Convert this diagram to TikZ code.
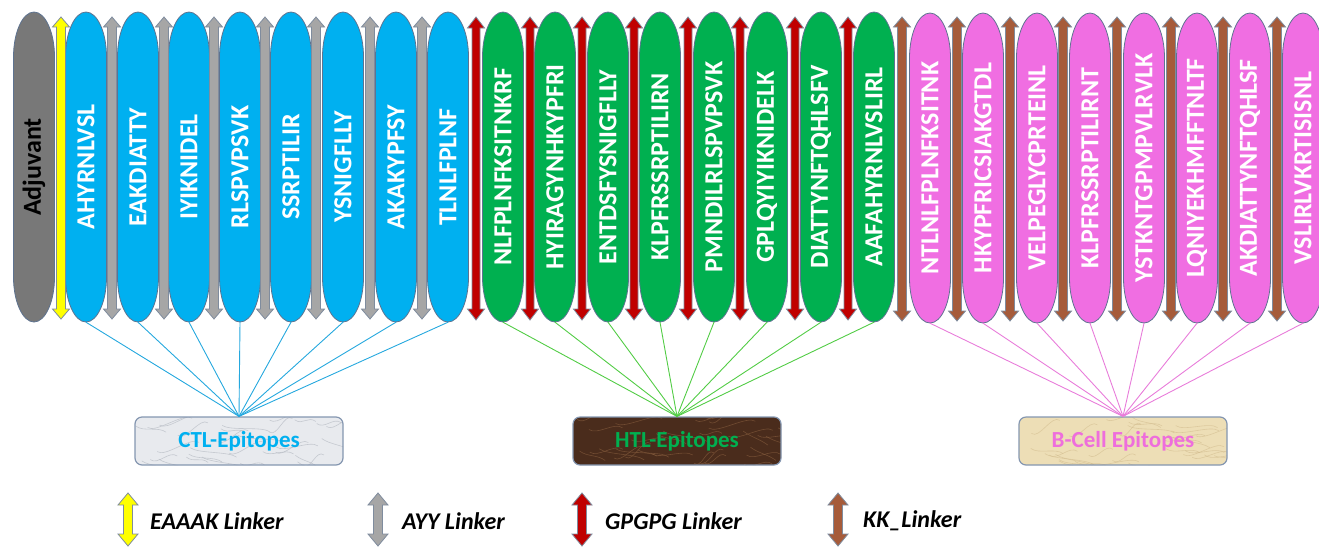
\documentclass[tikz,border=0pt]{standalone}
\usepackage{fontspec}
\setmainfont{Carlito}
\definecolor{ctlblue}{HTML}{00B0F0}
\definecolor{htlgreen}{HTML}{00B050}
\definecolor{bpink}{HTML}{F06EE2}
\definecolor{adjgray}{HTML}{787878}
\definecolor{epedge}{HTML}{5E7390}
\definecolor{arredge}{HTML}{7F8C9E}
\definecolor{eaaak}{HTML}{FFFF00}
\definecolor{ayy}{HTML}{A6A6A6}
\definecolor{gpgpg}{HTML}{C00000}
\definecolor{kk}{HTML}{A65B3A}
\definecolor{ctlline}{HTML}{25A8DE}
\definecolor{htlline}{HTML}{52CC45}
\definecolor{bline}{HTML}{E87CDA}
\definecolor{boxedge}{HTML}{8496B0}
\definecolor{ctlfill}{HTML}{E8EAEE}
\definecolor{ctlvein}{HTML}{AEB3BC}
\definecolor{htlfill}{HTML}{4A2C1C}
\definecolor{htlvein}{HTML}{8A6040}
\definecolor{bfill}{HTML}{EDDEB6}
\definecolor{bvein}{HTML}{D2BC8E}
\definecolor{btext}{HTML}{EE6EDC}
% double block arrow: x, y top, y bottom, fill, half shaft, half head, head length
\newcommand{\lnkarrow}[7]{%
  \filldraw[fill=#4, draw=arredge, line width=0.8pt, line join=miter]
    (#1-#5,#2+#7) -- (#1-#6,#2+#7) -- (#1,#2) -- (#1+#6,#2+#7) -- (#1+#5,#2+#7)
    -- (#1+#5,#3-#7) -- (#1+#6,#3-#7) -- (#1,#3) -- (#1-#6,#3-#7) -- (#1-#5,#3-#7) -- cycle;}
% epitope capsule: x, y centre, fill
\newcommand{\epshape}[3]{%
  \filldraw[fill=#3, draw=epedge, line width=0.8pt]
    (#1-20.5,#2-110) arc[start angle=180, end angle=360, x radius=20.5, y radius=45]
    -- (#1+20.5,#2+110) arc[start angle=0, end angle=180, x radius=20.5, y radius=45]
    -- cycle;}
% marble-like texture inside a box: centre x, centre y, vein colour
\newcommand{\veins}[3]{%
  \begin{scope}
    \clip[rounded corners=7pt] (#1-104,#2-24) rectangle (#1+104,#2+24);
    \foreach \k in {1,...,30} {
      \pgfmathsetmacro{\ax}{#1-104+rnd*208}
      \pgfmathsetmacro{\ay}{#2-24+rnd*48}
      \pgfmathsetmacro{\bx}{\ax+20+rnd*30}
      \pgfmathsetmacro{\by}{\ay-14+rnd*28}
      \draw[#3, line width=0.6pt, opacity=0.6] (\ax,\ay) .. controls (\ax+8,\ay+6) and (\bx-8,\by-6) .. (\bx,\by);
    }
  \end{scope}}
\begin{document}
\begin{tikzpicture}[x=1pt,y=-1pt,
  ep/.style={rectangle, minimum width=41pt, minimum height=310pt,
    inner sep=0pt, text=white, font=\fontsize{26}{28}\selectfont\bfseries},
  ebox/.style={rectangle, rounded corners=7pt, draw=boxedge, line width=1.2pt,
    minimum width=208pt, minimum height=48pt, inner sep=0pt,
    font=\fontsize{23}{25}\selectfont\bfseries},
  conn/.style={line width=0.9pt},
  legtext/.style={anchor=west, inner sep=0pt, text=black,
    font=\fontsize{24}{26}\selectfont\bfseries\itshape}]
\useasboundingbox (0,0) rectangle (1319,547);
\pgfmathsetseed{7}

% adjuvant
\epshape{34}{167}{adjgray}
\node[ep, text=black] (adj) at (34,167) {\rotatebox{90}{Adjuvant}};

% CTL epitopes
\foreach \x/\t [count=\i] in {86/AHYRNLVSL,138/EAKDIATTY,189/IYIKNIDEL,240/RLSPVPSVK,
  291/SSRPTILIR,343/YSNIGFLLY,396/AKAKYPFSY,448/TLNLFPLNF} {
  \epshape{\x}{167}{ctlblue}
  \node[ep] (c\i) at (\x,167) {\rotatebox{90}{\t}};
}

% HTL epitopes
\foreach \x/\t [count=\i] in {503/NLFPLNFKSITNKRF,555/HYIRAGYNHKYPFRI,608/ENTDSFYSNIGFLLY,
  660/KLPFRSSRPTILIRN,714/PMNDILRLSPVPSVK,767/GPLQYIYIKNIDELK,821/DIATTYNFTQHLSFV,
  874/AAFAHYRNLVSLIRL} {
  \epshape{\x}{167}{htlgreen}
  \node[ep] (h\i) at (\x,167) {\rotatebox{90}{\t}};
}

% B-cell epitopes
\foreach \x/\t [count=\i] in {930/NTLNLFPLNFKSITNK,983/HKYPFRICSIAKGTDL,1037/VELPEGLYCPRTEINL,
  1090/KLPFRSSRPTILIRNT,1144/YSTKNTGPMPVLRVLK,1197/LQNIYEKHMFFTNLTF,
  1250/AKDIATTYNFTQHLSF,1303/VSLIRLVKRTISISNL} {
  \epshape{\x}{168}{bpink}
  \node[ep] (b\i) at (\x,168) {\rotatebox{90}{\t}};
}

% linkers
\lnkarrow{61}{17}{319}{eaaak}{4.5}{8.5}{10}
\foreach \x in {112,164,214,265,316,370,422}
  {\lnkarrow{\x}{17}{319}{ayy}{4.5}{8.5}{10}}
\foreach \x in {476,530,582,634,688,740,795,848}
  {\lnkarrow{\x}{17}{320}{gpgpg}{4}{8.5}{11}}
\foreach \x in {902,957,1010,1063,1117,1171,1223,1277}
  {\lnkarrow{\x}{17}{321}{kk}{4.5}{8.5}{10}}

% group boxes
\fill[ctlfill, rounded corners=7pt] (135,417) rectangle (343,465);
\veins{239}{441}{ctlvein}
\fill[htlfill, rounded corners=7pt] (573,417) rectangle (781,465);
\veins{677}{441}{htlvein}
\fill[bfill, rounded corners=7pt] (1019,417) rectangle (1227,465);
\veins{1123}{441}{bvein}
\node[ebox, text=ctlblue] (ctlbox) at (239,441) {CTL-Epitopes};
\node[ebox, text=htlgreen] (htlbox) at (677,441) {HTL-Epitopes};
\node[ebox, text=btext] (bbox) at (1123,441) {B-Cell Epitopes};

% connectors
\foreach \i in {1,...,8} {
  \draw[conn, ctlline] (c\i.south) -- (ctlbox.north);
  \draw[conn, htlline] (h\i.south) -- (htlbox.north);
  \draw[conn, bline] (b\i.south) -- (bbox.north);
}

% legend
\lnkarrow{128}{493}{546}{eaaak}{4.5}{10}{12}
\node[legtext] (l1) at (150,521) {EAAAK Linker};
\lnkarrow{378}{493}{546}{ayy}{4.5}{10}{12}
\node[legtext] (l2) at (402,521) {AYY Linker};
\lnkarrow{582}{493}{546}{gpgpg}{4.5}{10}{12}
\node[legtext] (l3) at (605,521) {GPGPG Linker};
\lnkarrow{838}{493}{546}{kk}{4.5}{10}{12}
\node[legtext] (l4) at (863,521) {KK\_Linker};
\end{tikzpicture}
\end{document}
